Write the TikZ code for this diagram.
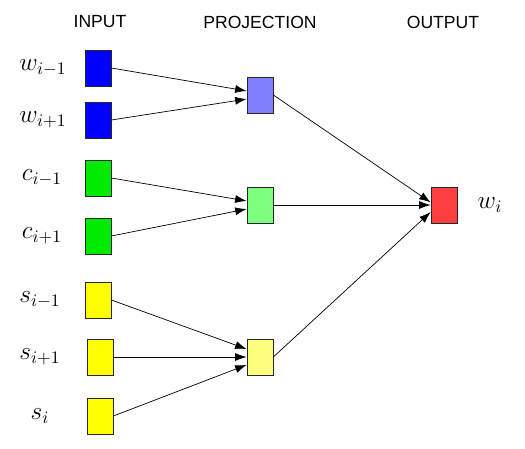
\documentclass[tikz,border=0pt]{standalone}
\usepackage{fontspec}
\setsansfont{Liberation Sans}
\usepackage{amsmath}
\usetikzlibrary{arrows.meta}

\definecolor{inblue}{RGB}{0,0,255}
\definecolor{ingreen}{RGB}{0,235,0}
\definecolor{inyellow}{RGB}{255,255,0}
\definecolor{pblue}{RGB}{128,128,255}
\definecolor{pgreen}{RGB}{128,255,128}
\definecolor{pyellow}{RGB}{255,255,128}
\definecolor{outred}{RGB}{255,64,64}

\begin{document}
\begin{tikzpicture}[x=0.02cm, y=-0.02cm, >={Latex[length=2.3mm, width=1.6mm]},
  unit/.style={draw=black!85, minimum width=0.52cm, minimum height=0.72cm, inner sep=0pt},
  lab/.style={font=\Large},
  head/.style={font=\sffamily\normalsize}]
  \useasboundingbox (0,0) rectangle (525,449);

  % Headers
  \node[head] (hin) at (100,22) {INPUT};
  \node[head] (hproj) at (260,22) {PROJECTION};
  \node[head] (hout) at (443,22) {OUTPUT};

  % Input
  \node[unit, fill=inblue] (w1) at (98,68) {};
  \node[unit, fill=inblue] (w2) at (98,120) {};
  \node[unit, fill=ingreen] (c1) at (98,178) {};
  \node[unit, fill=ingreen] (c2) at (98,236) {};
  \node[unit, fill=inyellow] (s1) at (98,300) {};
  \node[unit, fill=inyellow] (s2) at (100,357) {};
  \node[unit, fill=inyellow] (s3) at (100,416) {};

  \node[lab] (lw1) at (43,68) {$w_{i-1}$};
  \node[lab] (lw2) at (43,120) {$w_{i+1}$};
  \node[lab] (lc1) at (42,178) {$c_{i-1}$};
  \node[lab] (lc2) at (42,236) {$c_{i+1}$};
  \node[lab] (ls1) at (40,300) {$s_{i-1}$};
  \node[lab] (ls2) at (40,357) {$s_{i+1}$};
  \node[lab] (ls3) at (40,416) {$s_i$};

  % Projection
  \node[unit, fill=pblue] (p1) at (260,95) {};
  \node[unit, fill=pgreen] (p2) at (260,205) {};
  \node[unit, fill=pyellow] (p3) at (260,357) {};

  % Output
  \node[unit, fill=outred] (o) at (444,205) {};
  \node[lab] (lo) at (490,205) {$w_i$};

  \draw[->] (w1.east) -- ([yshift=2.3pt]p1.west);
  \draw[->] (w2.east) -- ([yshift=-2.3pt]p1.west);
  \draw[->] (c1.east) -- ([yshift=2.3pt]p2.west);
  \draw[->] (c2.east) -- ([yshift=-2.3pt]p2.west);
  \draw[->] (s1.east) -- ([yshift=4.5pt]p3.west);
  \draw[->] (s2.east) -- (p3.west);
  \draw[->] (s3.east) -- ([yshift=-4.5pt]p3.west);

  \draw[->] (p1.east) -- ([yshift=1.5pt]o.west);
  \draw[->] (p2.east) -- (o.west);
  \draw[->] (p3.east) -- ([yshift=-4pt]o.west);
\end{tikzpicture}
\end{document}
